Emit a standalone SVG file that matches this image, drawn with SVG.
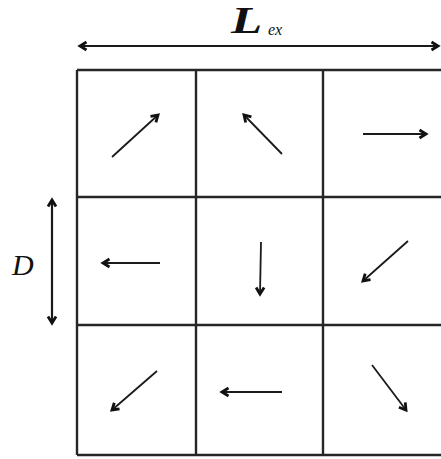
<svg xmlns="http://www.w3.org/2000/svg" width="441" height="459" viewBox="0 0 441 459">
<style>
.grid{stroke:#262626;stroke-width:2.4;fill:none}
.vec{stroke:#1a1a1a;stroke-width:1.8;fill:none;marker-end:url(#head)}
.dim{stroke:#1a1a1a;stroke-width:2.2;fill:none;marker-start:url(#headS);marker-end:url(#head)}
.lbl{font-family:"Liberation Serif",serif;font-style:italic;fill:#111}
</style>
<defs>
<marker id="head" viewBox="0 0 10 10" refX="8" refY="5" markerWidth="10" markerHeight="10" markerUnits="userSpaceOnUse" orient="auto" overflow="visible">
<polyline points="1.5,1 8,5 1.5,9" fill="none" stroke="#111" stroke-width="2.8" stroke-linejoin="miter"/>
</marker>
<marker id="headS" viewBox="0 0 10 10" refX="8" refY="5" markerWidth="10" markerHeight="10" markerUnits="userSpaceOnUse" orient="auto-start-reverse" overflow="visible">
<polyline points="1.5,1 8,5 1.5,9" fill="none" stroke="#111" stroke-width="2.8" stroke-linejoin="miter"/>
</marker>
</defs>
<g id="grid">
<path class="grid" d="M77,70 H445 M77,197 H445 M77,325 H445 M77,455 H445 M77,70 V455 M196,70 V455 M323,70 V455"/>
</g>
<g id="label-Lex">
<text class="lbl" x="231" y="33.5" font-size="37" font-weight="bold" transform="translate(231,0) scale(1.38,1) translate(-231,0)">L</text>
<text class="lbl" x="268" y="35" font-size="16">ex</text>
</g>
<g id="label-D">
<text class="lbl" x="12" y="275" font-size="30">D</text>
</g>
<g id="connectors">
<line class="dim" x1="80" y1="46" x2="438" y2="46"/>
<line class="dim" x1="52" y1="200" x2="52" y2="323"/>
<line class="vec" x1="112" y1="157" x2="158" y2="115"/>
<line class="vec" x1="282" y1="154" x2="244" y2="115"/>
<line class="vec" x1="363" y1="134" x2="426" y2="134"/>
<line class="vec" x1="160" y1="263" x2="103" y2="263"/>
<line class="vec" x1="261" y1="242" x2="260" y2="294"/>
<line class="vec" x1="408" y1="241" x2="363" y2="281"/>
<line class="vec" x1="157" y1="371" x2="112" y2="410"/>
<line class="vec" x1="282" y1="392" x2="222" y2="392"/>
<line class="vec" x1="372" y1="365" x2="406" y2="410"/>
</g>
</svg>
